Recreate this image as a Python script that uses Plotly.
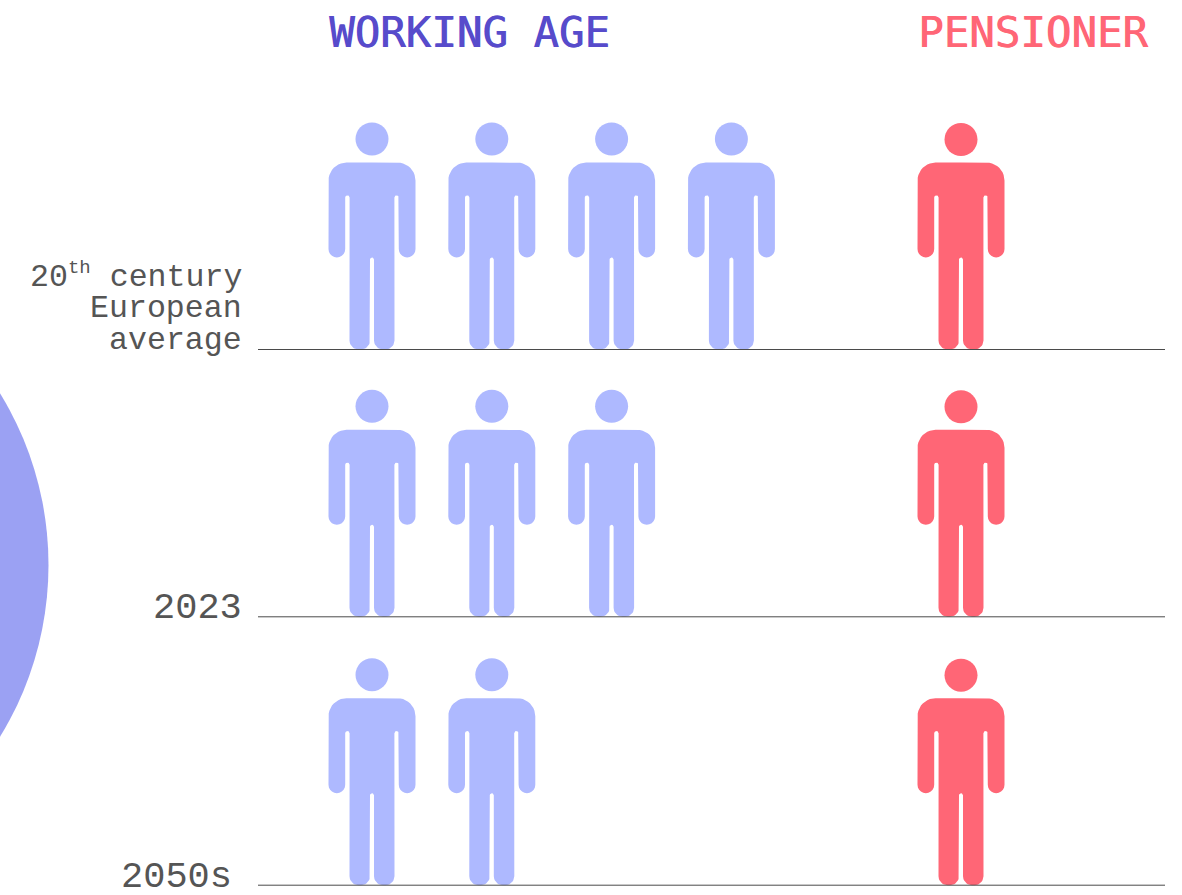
import math
import plotly.graph_objects as go

# --- data ---
ROW_KEYS = ["20th century European average", "2023", "2050s"]
WORKING_COUNTS = [4, 3, 2]
PENSIONER_COUNTS = [1, 1, 1]
COLUMN_TITLES = ["WORKING AGE", "PENSIONER"]
ROW_LABEL_LINES = [
    ["20<sup><span style='font-size:19px'>th</span></sup> century", "European", "average"],
    ["2023"],
    ["2050s"],
]

# --- layout constants (pixel-scaled axes) ---
W, H = 1182, 895
BASELINES = [349.5, 616.8, 885.2]
WORK_X0, WORK_STEP = 372, 119.8
PENS_X = 961
WORK_COL, PENS_COL, LABEL_COL = "#aeb9ff", "#ff6676", "#555555"
TITLE_WORK, TITLE_PENS = "#574bcb", "#ff6676"
MONO = "Liberation Mono"
TITLE_FONT = "DejaVu Sans Mono"


def arc(cx, cy, r, a0, a1, n=10):
    return [(cx + r * math.cos(math.radians(a0 + (a1 - a0) * i / n)),
             cy + r * math.sin(math.radians(a0 + (a1 - a0) * i / n))) for i in range(n + 1)]


def half_body():
    """Right half of the figure, from the top centre to the crotch; y grows upward."""
    p = [(0, 187)]
    p += arc(25.5, 169, 18, 90, 0)              # shoulder
    p += arc(35.15, 100.4, 8.35, 0, -180)       # hand
    p += arc(24.6, 152, 2.2, 0, 180)            # armpit
    p += arc(13.5, 9, 9, 0, -90)                # outer foot
    p += arc(11, 9, 9, -90, -180)               # inner foot
    p += arc(0, 90, 2, 0, 180, 6)[:4]           # slit top
    return p


HALF = half_body()
BODY = HALF + [(-x, y) for x, y in reversed(HALF)]
HEAD_RISE = 210.5


def people(xs_rows, rise):
    bx, by, hx, hy = [], [], [], []
    for x, base in xs_rows:
        bx += [x + p[0] for p in BODY] + [None]
        by += [base - p[1] for p in BODY] + [None]
        hx.append(x)
        hy.append(base - rise)
    return bx, by, hx, hy


work = [(WORK_X0 + WORK_STEP * i, BASELINES[r]) for r, n in enumerate(WORKING_COUNTS) for i in range(n)]
pens = [(PENS_X + WORK_STEP * i, BASELINES[r]) for r, n in enumerate(PENSIONER_COUNTS) for i in range(n)]

fig = go.Figure()
for name, group, col, rise in [(COLUMN_TITLES[0], work, WORK_COL, HEAD_RISE),
                               (COLUMN_TITLES[1], pens, PENS_COL, HEAD_RISE - 0.5)]:
    bx, by, hx, hy = people(group, rise)
    fig.add_trace(go.Scatter(x=bx, y=by, mode="lines", fill="toself", fillcolor=col,
                             line=dict(width=0, color=col), name=name, hoverinfo="skip"))
    fig.add_trace(go.Scatter(x=hx, y=hy, mode="markers", name=name, hoverinfo="skip",
                             marker=dict(size=33, color=col, line=dict(width=0))))

shapes = [dict(type="circle", xref="x", yref="y", x0=-610, x1=48.5, y0=236, y1=894,
               fillcolor="#9ba1f3", line=dict(width=0), layer="below")]
for b in BASELINES:
    shapes.append(dict(type="line", xref="x", yref="y", x0=258, x1=1165, y0=b, y1=b,
                       line=dict(color="#4a4a4a", width=1)))

annotations = []


def text(x, y, s, size, color, anchor="right", family=MONO, shadow=None):
    font = dict(family=family, size=size, color=color)
    if shadow:
        font["shadow"] = shadow
    annotations.append(dict(x=x, y=y, xref="x", yref="y", text=s, showarrow=False,
                            xanchor=anchor, yanchor="middle", align=anchor, font=font))


text(326.5, 32, COLUMN_TITLES[0], 42.4, TITLE_WORK, "left", TITLE_FONT, f"0.8px 0 0 {TITLE_WORK}")
text(915.5, 32, COLUMN_TITLES[1], 42.4, TITLE_PENS, "left", TITLE_FONT, f"0.8px 0 0 {TITLE_PENS}")
for y, s in zip([276, 308, 340], ROW_LABEL_LINES[0]):
    text(244, y, s, 31.6, LABEL_COL)
text(244, 608, ROW_LABEL_LINES[1][0], 37, LABEL_COL)
text(234, 876.5, ROW_LABEL_LINES[2][0], 37, LABEL_COL)

fig.update_layout(
    width=W, height=H, margin=dict(l=0, r=0, t=0, b=0), showlegend=False,
    paper_bgcolor="white", plot_bgcolor="white", shapes=shapes, annotations=annotations,
    xaxis=dict(range=[0, W], visible=False, fixedrange=True),
    yaxis=dict(range=[H, 0], visible=False, fixedrange=True),
)
fig.write_html("out.html", config=dict(displayModeBar=False),
               post_script="document.body.style.margin='0';document.body.style.overflow='hidden';")
